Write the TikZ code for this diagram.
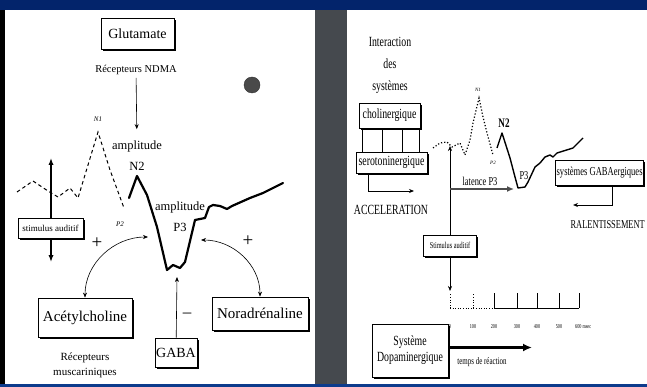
\documentclass[tikz,border=0pt]{standalone}
\usepackage{fontspec}
\setmainfont{Liberation Serif}
\newfontfamily\narrowf{Liberation Serif}[FakeStretch=0.7]
\usetikzlibrary{arrows.meta,shadows}
\definecolor{barc}{HTML}{03246B}
\definecolor{barlow}{HTML}{0D3B8C}
\definecolor{gapc}{HTML}{45494E}
\definecolor{dotc}{HTML}{4A4A4A}
\newcommand\fsz[1]{\fontsize{#1}{#1}\selectfont}
\tikzset{
  ar/.style={-{Stealth[length=5pt,width=4pt]},semithick},
  dar/.style={{Stealth[length=5pt,width=4pt]}-{Stealth[length=5pt,width=4pt]},semithick},
  box/.style={draw,thick,fill=white,align=center,inner sep=1pt,drop shadow={shadow xshift=1.6pt,shadow yshift=-1.6pt,opacity=1,fill=black}},
  lbl/.style={inner sep=0pt,align=center},
  nl/.style={lbl,font=\narrowf\fsz{#1}},
  wave/.style={line width=2.2pt,line join=round,line cap=round}
}

\begin{document}
\begin{tikzpicture}[x=1pt,y=-1pt]
\useasboundingbox (0,0) rectangle (647,387);
\fill[white] (0,0) rectangle (647,387);
\fill[barc] (0,0) rectangle (647,10);
\fill[black] (0,10) rectangle (5,384);
\fill[gapc] (315,10) rectangle (347,384);
\fill[barlow] (0,384) rectangle (647,387);

% left panel
\node[box,minimum width=73pt,minimum height=31pt,font=\fsz{14}] (glu) at (137.5,34) {Glutamate};
\node[lbl,font=\fsz{10.5}] (ndma) at (136,70) {Récepteurs NDMA};
\node[lbl,font=\fsz{12.5}] (ampn) at (137,146) {amplitude};
\node[lbl,font=\fsz{12.5}] (n2) at (137,166) {N2};
\draw[ar,shorten <=3pt,shorten >=11pt] (ndma) -- (ampn);
\fill[dotc,draw=black!80] (252,85) circle (8);

\draw[line width=1pt,dash pattern=on 3.5pt off 3pt] (17,192) -- (33,181) -- (48,191) -- (58,197) -- (70,188) -- (78,198) -- (98,132) -- (110,170) -- (124,208);
\node[lbl,font=\itshape\fsz{7}] (n1) at (98,119) {N1};
\node[lbl,font=\itshape\fsz{7}] (p2) at (120,224) {P2};

\coordinate (st1) at (51,158);
\coordinate (st2) at (51,262);
\draw[{Latex[length=7pt]}-{Latex[length=7pt]},line width=1.6pt] (st1) -- (st2);
\node[box,minimum width=65pt,minimum height=20pt,font=\fsz{9}] (stim) at (50.5,228) {stimulus auditif};

\draw[wave] (129,198) -- (137,176) -- (147,195) -- (157,227) -- (167,270) -- (173,265) -- (180,268) -- (185,262) -- (195,220) -- (200,219) -- (205,218) -- (209,207) -- (213,205) -- (220,206) -- (227,209) -- (232,206) -- (250,198) -- (263,193) -- (273,188) -- (283,183);
\node[lbl,font=\fsz{12.5}] (amp3) at (180,207) {amplitude};
\node[lbl,font=\fsz{12.5}] (p3) at (180,227) {P3};

\node[lbl,font=\fsz{19}] (pl1) at (97,243) {+};
\node[lbl,font=\fsz{19}] (pl2) at (248,241) {+};
\node[lbl,font=\fsz{17}] (mn) at (187,315) {–};

\node[box,minimum width=94pt,minimum height=39pt,font=\fsz{15}] (ach) at (85,317.5) {Acétylcholine};
\node[box,minimum width=42pt,minimum height=29pt,font=\fsz{14}] (gaba) at (176,352.5) {GABA};
\node[box,minimum width=96pt,minimum height=33pt,font=\fsz{15}] (nor) at (260,313.5) {Noradrénaline};
\node[lbl,font=\fsz{11}] (rmus) at (85,365) {Récepteurs\\[4pt]muscariniques};

\coordinate (ta) at (148,237);
\coordinate (tn) at (201,240);
\coordinate (tg) at (177,277);
\draw[dar] (ach.north) to[out=90,in=180] (ta);
\draw[dar] (nor.north) to[out=90,in=0] (tn);
\draw[ar] (gaba) -- (tg);

% right panel
\node[nl=14] (inter) at (390,42) {Interaction};
\node[nl=14] (des) at (390,64) {des};
\node[nl=14] (sys) at (390,87) {systèmes};
\node[box,minimum width=61pt,minimum height=25pt,font=\narrowf\fsz{14}] (chol) at (389.5,115.5) {cholinergique};
\node[box,minimum width=71pt,minimum height=21pt,font=\narrowf\fsz{14}] (sero) at (391.5,162.5) {serotoninergique};
\foreach \x in {362,382,402,419}{\draw[semithick] ({\x},0 |- chol.south) -- ({\x},0 |- sero.north);}
\coordinate (acc) at (414,191);
\draw[ar,thick] ([xshift=-23.5pt]sero.south) |- (acc);
\node[nl=14] (accl) at (391,210) {ACCELERATION};

\draw[dotted,line width=1.2pt] (433,148) -- (440,143) -- (447,142) -- (452,147) -- (460,143) -- (465,155) -- (470,140) -- (473,123) -- (479,98) -- (483,117) -- (487,133) -- (493,155);
\draw[line width=1.4pt,line join=round] (497,148) -- (502,133) -- (510,158) -- (515,177) -- (518,188) -- (525,187) -- (528,182) -- (535,167) -- (540,163) -- (545,157) -- (550,155) -- (553,157) -- (557,153) -- (573,148) -- (583,138);
\node[lbl,font=\itshape\fsz{5}] (rn1) at (478,90) {N1};
\node[lbl,font=\itshape\fsz{5}] (rp2) at (493,163) {P2};
\node[lbl,font=\narrowf\bfseries\fsz{13}] (rn2) at (504,123) {N2};
\node[nl=12] (rp3) at (524,176) {P3};

\coordinate (rt) at (450,146);
\coordinate (ax0) at (450,291);
\node[box,minimum width=53pt,minimum height=21pt,font=\narrowf\fsz{9}] (stimr) at (450,245.5) {Stimulus auditif};
\draw[ar] (stimr) -- (rt);
\draw[ar] (stimr) -- (ax0);
\coordinate (lat0) at (450,189);
\coordinate (lat1) at (514,189);
\draw[-{Latex[length=7pt,width=6pt]},line width=1.6pt,black!70] (lat0) -- (lat1);
\node[nl=12] (latl) at (480,181) {latence P3};

\node[box,anchor=east,minimum height=25pt,font=\narrowf\fsz{12.2}] (gabr) at (644,172.5) {systèmes GABAergiques};
\coordinate (ral) at (573,205);
\draw[ar,thick] ({612},0 |- gabr.south) |- (ral);
\node[nl=12,anchor=east] (rall) at (645,225) {RALENTISSEMENT};

\draw[dotted,semithick] (450,308) -- (494,308);
\draw[semithick] (494,308) -- (579,308);
\foreach \x in {450,473}{\draw[dotted,semithick] (\x,308) -- (\x,293);}
\foreach \x in {494,517,537,559,579}{\draw[semithick] (\x,308) -- (\x,293);}
\foreach \x/\t in {450/0,473/100,494/200,517/300,537/400,559/500}{\node[nl=6] (tk\t) at (\x,327) {\t};}
\node[nl=6,anchor=west] (tk600) at (575,327) {600 msec};

\node[box,minimum width=76pt,minimum height=53pt,font=\narrowf\fsz{14}] (dopa) at (410,350.5) {Système\\[2pt]Dopaminergique};
\coordinate (dp) at (532,347.5);
\draw[-{Latex[length=9pt,width=8pt]},line width=2.4pt] ([yshift=3pt]dopa.east) -- (dp);
\node[nl=10] (trea) at (482,362) {temps de réaction};
\end{tikzpicture}
\end{document}
